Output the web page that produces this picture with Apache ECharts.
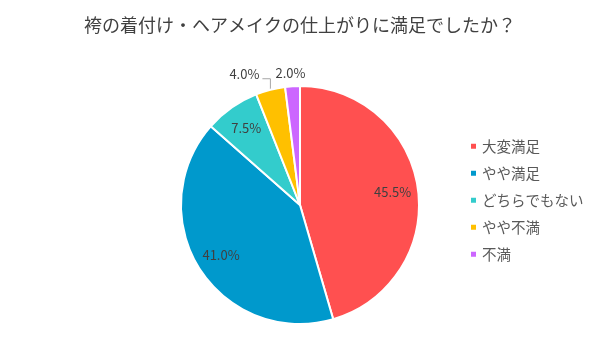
<!DOCTYPE html>
<html><head><meta charset="utf-8">
<script src="https://cdn.jsdelivr.net/npm/echarts@6/dist/echarts.min.js"></script>
<style>html,body{margin:0;padding:0;background:#fff}#c{width:600px;height:360px}</style>
</head><body><div id="c"></div>
<script>
const titleText = '袴の着付け・ヘアメイクの仕上がりに満足でしたか？';
const categories = ['大変満足', 'やや満足', 'どちらでもない', 'やや不満', '不満'];
const values = [45.5, 41.0, 7.5, 4.0, 2.0];
const colors = ['#FF5050', '#0099CC', '#33CCCC', '#FFC000', '#CC66FF'];
const outsideIdx = [3, 4];

const font = '"Noto Sans CJK JP", "Noto Sans", sans-serif';
const chart = echarts.init(document.getElementById('c'));
const center = [300, 205];
const R = 119;
chart.setOption({
  animation: false,
  color: colors,
  title: {
    text: titleText, left: 'center', top: 11,
    textStyle: { fontFamily: font, fontSize: 18, fontWeight: 'normal', color: '#404040' }
  },
  legend: {
    orient: 'vertical', left: 464, top: 134,
    icon: 'rect', itemWidth: 7, itemHeight: 7, itemGap: 12.5,
    textStyle: { fontFamily: font, fontSize: 14.5, color: '#595959' },
    data: categories
  },
  series: [
    {
      type: 'pie', center: center, radius: [0, R], startAngle: 90, clockwise: true,
      itemStyle: { borderColor: '#fff', borderWidth: 2 },
      data: categories.map((c, i) => ({
        name: c, value: values[i],
        label: outsideIdx.includes(i) ? { show: true } : { show: false },
        labelLine: outsideIdx.includes(i) ? { show: true } : { show: false }
      })),
      label: {
        position: 'outside', formatter: p => p.value.toFixed(1) + '%',
        fontFamily: font, fontSize: 13, color: '#404040'
      },
      labelLine: { length: 8, length2: 6, lineStyle: { color: '#a6a6a6', width: 1 } },
      labelLayout: function (p) {
        if (!p.labelLinePoints) return {};
        const p0 = p.labelLinePoints[0];
        if (p.dataIndex === 3) {
          return {
            x: p0[0] - 11, y: p0[1] - 16, align: 'right', verticalAlign: 'middle',
            labelLinePoints: [p0, [p0[0], p0[1] - 11], [p0[0] - 8, p0[1] - 11]]
          };
        }
        if (p.dataIndex === 4) {
          return {
            x: p0[0] - 2, y: p0[1] - 13, align: 'center', verticalAlign: 'middle',
            labelLinePoints: [p0, p0, p0]
          };
        }
        return {};
      },
      emphasis: { disabled: true }
    },
    {
      type: 'pie', center: center, radius: [62, R], startAngle: 90, clockwise: true,
      silent: true, legendHoverLink: false,
      itemStyle: { color: 'rgba(0,0,0,0)', borderWidth: 0 },
      data: categories.map((c, i) => ({
        name: c + ' ', value: values[i],
        label: { show: !outsideIdx.includes(i) }
      })),
      label: {
        position: 'inside', formatter: p => p.value.toFixed(1) + '%',
        fontFamily: font, fontSize: 13, color: '#404040'
      },
      labelLine: { show: false },
      emphasis: { disabled: true }
    }
  ]
});
</script></body></html>
